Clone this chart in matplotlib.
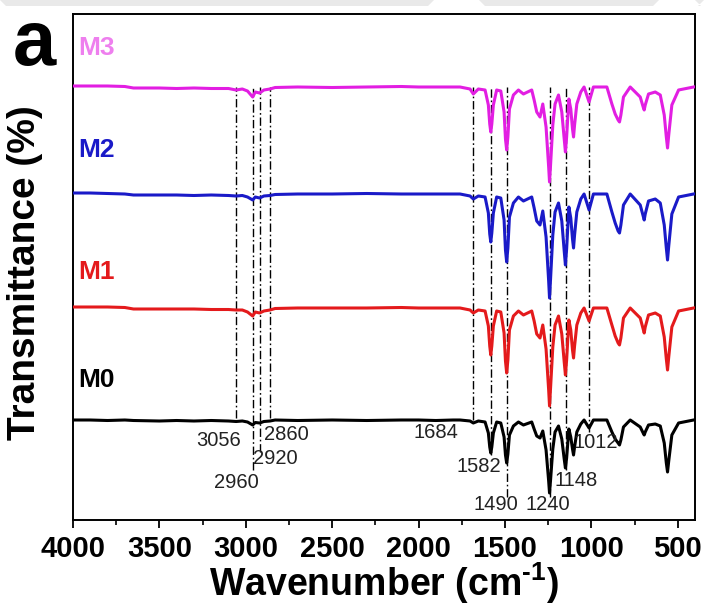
import matplotlib
matplotlib.use("Agg")
import matplotlib.pyplot as plt
from matplotlib.patches import Polygon

plt.rcParams['font.family'] = ['Liberation Sans', 'DejaVu Sans']
plt.rcParams['mathtext.fontset'] = 'custom'
plt.rcParams['mathtext.rm'] = 'Liberation Sans:bold'
plt.rcParams['mathtext.bf'] = 'Liberation Sans:bold'

# wavenumbers (cm-1), high region and fingerprint region
wn_hi = [4000, 3900, 3800, 3700, 3650, 3500, 3400, 3300, 3200, 3100, 3056, 3020,
         2990, 2960, 2945, 2920, 2895, 2860, 2830, 2700, 2500, 2300, 2100, 2000, 1900, 1800]
wn_fp = [1760, 1702, 1683, 1654, 1615, 1596, 1588, 1582, 1576, 1567, 1548, 1524, 1505, 1497,
         1490, 1483, 1474, 1451, 1422, 1393, 1345, 1331, 1316, 1297, 1281, 1262, 1247, 1242,
         1236, 1223, 1210, 1190, 1171, 1157, 1150, 1143, 1130, 1119, 1109, 1103, 1097, 1084,
         1061, 1042, 1013, 988, 910, 881, 862, 845, 837, 829, 814, 775, 717, 700, 694, 688,
         669, 630, 601, 578, 566, 559, 552, 534, 495, 408]

# absorption depth below each baseline
M3_hi = [-1, -1, -1, -0.5, 1, 1, 1.5, 1, 1.5, 1.5, 3, 2, 4, 10, 5, 6, 3, 2, 0.5, 0, 0.5, 0, -0.5, 0, 0, 0]
M2_hi = [-1, -1, -0.5, 0, 1, 1, 1, 1.5, 1, 1.5, 2, 1.5, 3, 6, 3, 4, 2, 1.5, 0.5, 0, 0, -0.5, 0, 0, 0, 0]
M1_hi = [-1, -1, -1, -0.5, 1, 1, 1, 1, 1.5, 1.5, 2, 2, 4, 8, 4, 5, 3, 2, 0.5, 0, 0, 0, -0.5, 0, 0, 0]
M0_hi = [0, 0, 0.5, 0, 0.5, 1, 0.5, 1, 0.5, 1, 1.5, 1, 2, 5, 2.5, 3, 1.5, 1, 0, 0.5, 0, 0.5, 0, 0, 0.5, 0]

M3_fp = [0, 2, 7, 2, 3, 18, 37, 45, 37, 18, 3, 4, 25, 52, 63, 50, 22, 8, 3, 7, 3, 13, 25, 30,
         17, 40, 80, 95, 78, 38, 17, 8, 25, 52, 65, 50, 12, 22, 42, 50, 38, 17, 5, 0, 15, 0, 0,
         17, 27, 33, 35, 28, 10, 0, 10, 20, 23, 18, 7, 5, 8, 28, 50, 61, 48, 18, 3, 0]
M2_fp = [0, 2, 5, 2, 3, 19, 40, 48, 39, 19, 3, 4, 26, 56, 68, 54, 23, 9, 3, 7, 3, 14, 27, 31,
         17, 43, 87, 104, 85, 41, 18, 9, 27, 57, 71, 55, 13, 24, 45, 54, 41, 18, 5, 0, 16, 0, 0,
         18, 29, 37, 39, 31, 11, 0, 11, 22, 26, 20, 7, 5, 9, 31, 54, 66, 52, 20, 3, 0]
M1_fp = [0, 2, 5, 2, 3, 18, 38, 47, 38, 18, 3, 4, 25, 53, 65, 52, 22, 8, 3, 7, 3, 13, 26, 30,
         17, 41, 82, 98, 80, 39, 17, 8, 26, 54, 67, 52, 12, 22, 42, 50, 38, 17, 5, 0, 13, 0, 0,
         17, 28, 35, 37, 30, 10, 0, 10, 21, 25, 19, 7, 5, 8, 29, 51, 62, 49, 19, 3, 0]
M0_fp = [0, 1, 3, 1, 2, 13, 27, 33, 27, 13, 2, 3, 17, 35, 43, 34, 15, 6, 2, 5, 2, 9, 16, 18,
         11, 30, 61, 73, 60, 29, 12, 6, 19, 39, 48, 38, 9, 17, 29, 35, 27, 12, 4, 0, 8, 0, 0,
         12, 19, 23, 25, 20, 7, 0, 7, 13, 15, 12, 5, 4, 6, 23, 43, 52, 41, 15, 3, 0]

names = ['M0', 'M1', 'M2', 'M3']
baselines = [100, 212, 326, 433]   # offsets of the stacked spectra
line_colors = ['black', '#e41a1c', '#1a1ac8', '#e21ee2']
label_colors = ['black', '#e41a1c', '#1a1ac8', '#ee7fee']
label_y = [140, 248, 370, 472]

# marked bands, label positions and how far down the guide line goes
band_wn = [3056, 2960, 2920, 2860, 1684, 1582, 1490, 1240, 1148, 1012]
band_text_x = [3160, 3057, 2831, 2763, 1900, 1650, 1551, 1250, 1088, 972]
band_text_y = [80, 38, 61, 86, 88, 53, 15, 15, 40, 77]
band_line_end = [102, 50, 68, 102, 100, 65, 23, 23, 50, 88]

wn = wn_hi + wn_fp
depths = [M0_hi + M0_fp, M1_hi + M1_fp, M2_hi + M2_fp, M3_hi + M3_fp]

fig = plt.figure(figsize=(7.04, 6.06), dpi=100)
ax = fig.add_axes([73/704, 86/606, 622/704, 506/606])

for i in range(4):
    y = [baselines[i] - d for d in depths[i]]
    ax.plot(wn, y, color=line_colors[i], lw=2.2, zorder=3)
    ax.text(3970, label_y[i], names[i], color=label_colors[i], fontsize=19,
            fontweight='bold', ha='left', va='center')

# dash-dot guide lines and band labels
for j in range(len(band_wn)):
    ax.plot([band_wn[j], band_wn[j]], [band_line_end[j], baselines[3]], color='black',
            lw=1.0, linestyle=(0, (6, 2, 1.2, 2)), zorder=2)
    ax.text(band_text_x[j], band_text_y[j], str(band_wn[j]), fontsize=14.5,
            color='#222222', ha='center', va='center')

ax.set_xlim(4000, 400)
ax.set_ylim(0, 506)
ax.set_xticks([4000, 3500, 3000, 2500, 2000, 1500, 1000, 500])
ax.set_xticks([3750, 3250, 2750, 2250, 1750, 1250, 750], minor=True)
ax.set_yticks([])
ax.tick_params(axis='x', which='major', direction='out', length=6, width=1.3,
               labelsize=21, pad=5)
ax.tick_params(axis='x', which='minor', direction='out', length=3.5, width=1.2)
for lab in ax.get_xticklabels():
    lab.set_fontweight('bold')
for s in ax.spines.values():
    s.set_linewidth(1.4)

ax.set_xlabel(r'Wavenumber (cm$^{\text{-}\mathbf{1}}$)', fontsize=27, fontweight='bold', labelpad=-2)
fig.text(25/704, 1 - 273/606, 'Transmittance (%)', rotation=90, fontsize=28,
         fontweight='bold', ha='center', va='center')
fig.text(34/704, 1 - 45/606, 'a', fontsize=56, fontweight='bold', ha='center', va='center')

# faint grey watermark strips along the top edge
for xs in [(0, 434), (479, 659), (695, 704)]:
    poly = Polygon([(xs[0]/704, 1), (xs[1]/704, 1), ((xs[1]-6)/704, 1 - 6/606),
                    ((xs[0]+6)/704, 1 - 6/606)], closed=True, transform=fig.transFigure,
                   facecolor='#e9e9e9', edgecolor='none', zorder=0)
    fig.patches.append(poly)

fig.savefig('out.png', dpi=100)
